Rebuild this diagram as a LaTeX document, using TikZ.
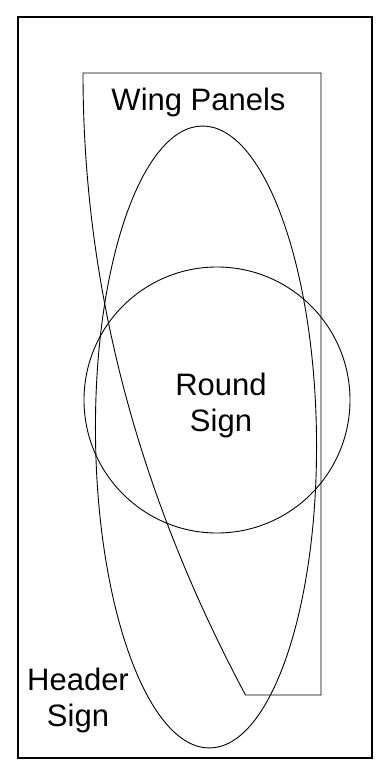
\documentclass[tikz,border=0pt]{standalone}
\usepackage{fontspec}
\setmainfont{Liberation Sans}
\usetikzlibrary{shapes.geometric}
\begin{document}
\begin{tikzpicture}[x=1pt,y=-1pt,
  thinline/.style={draw=black,line width=0.9pt},
  frameline/.style={draw=black,line width=2.6pt},
  lbl/.style={font=\fontsize{31}{36}\selectfont,align=center,inner sep=0pt}]
\useasboundingbox (0,0) rectangle (387,776);
\draw[frameline] (18,17) rectangle (372,758);
% wing panels outline
\coordinate (wA) at (245.5,695);
\coordinate (wB) at (83,73);
\coordinate (wC) at (321,73);
\coordinate (wD) at (321,695);
\draw[thinline,line join=miter] (wA) .. controls (137,492) and (83,285) .. (wB) -- (wC) -- (wD) -- cycle;
% ellipse (header sign)
\node[thinline,ellipse,minimum width=221pt,minimum height=622pt,inner sep=0pt,rotate=0.7] (ell) at (206,437) {};
% circle (round sign)
\node[thinline,circle,minimum size=266pt,inner sep=0pt] (circ) at (217,400) {};
\node[lbl] (wing) at (198.5,102) {Wing Panels};
\node[lbl] (round) at (221,405) {Round\\Sign};
\node[lbl] (header) at (78,700) {Header\\Sign};
\end{tikzpicture}
\end{document}
